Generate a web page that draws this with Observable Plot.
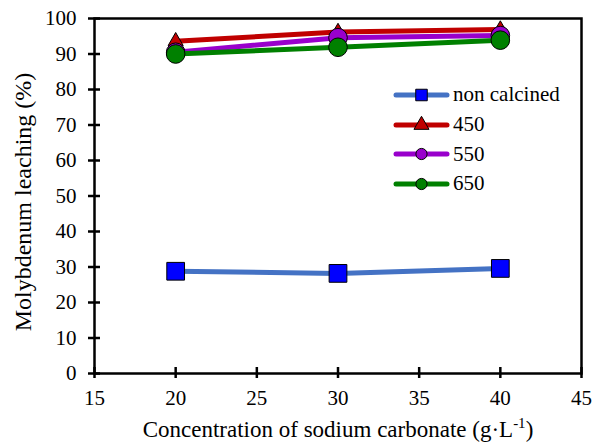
<!DOCTYPE html>
<html>
<head>
<meta charset="utf-8">
<script src="https://cdn.jsdelivr.net/npm/d3@7"></script>
<script src="https://cdn.jsdelivr.net/npm/@observablehq/plot@0.6"></script>
<style>
  body { margin: 0; background: #fff; }
  #wrap { position: relative; width: 592px; height: 446px; }
  #legend { position: absolute; left: 390px; top: 80px; font-family: "Liberation Serif", serif; font-size: 21px; color: #000; }
  #legend .row { display: flex; align-items: center; height: 29.7px; }
  #legend svg { display: block; margin-right: 3px; }
</style>
</head>
<body>
<div id="wrap"></div>
<script>
const concentrations = [20, 30, 40];
const nonCalcined = [28.8, 28.2, 29.6];
const s450 = [93.6, 96.2, 96.9];
const s550 = [90.5, 94.6, 95.2];
const s650 = [90.0, 91.9, 93.9];
const seriesNames = ["non calcined", "450", "550", "650"];
const seriesValues = [nonCalcined, s450, s550, s650];
const lineColors = ["#4472C4", "#C00000", "#9900CC", "#008000"];
const markerFills = ["#0000FF", "#C00000", "#9900CC", "#008000"];
const markerSymbols = ["square", "triangle", "circle", "circle"];
const markerR = [10, 5.6, 9.3, 9.3];
const xTicks = [15, 20, 25, 30, 35, 40, 45];
const yTicks = [0, 10, 20, 30, 40, 50, 60, 70, 80, 90, 100];
const xTitle = "Concentration of sodium carbonate (g·L-1)";
const yTitle = "Molybdenum leaching (%)";

const font = "Liberation Serif";

const seriesMarks = seriesNames.flatMap((name, i) => {
  const data = concentrations.map((c, j) => ({x: c, y: seriesValues[i][j]}));
  return [
    Plot.line(data, {x: "x", y: "y", stroke: lineColors[i], strokeWidth: 5, strokeLinecap: "round"}),
    Plot.dot(data, {x: "x", y: "y", symbol: markerSymbols[i], r: markerR[i], fill: markerFills[i], stroke: "#000", strokeWidth: 1})
  ];
});

const chart = Plot.plot({
  width: 592,
  height: 446,
  marginLeft: 94,
  marginRight: 11,
  marginTop: 18,
  marginBottom: 73,
  style: {fontFamily: font, background: "#fff", color: "#000", overflow: "visible"},
  x: {domain: [15, 45]},
  y: {domain: [0, 100]},
  marks: [
    ...seriesMarks,
    Plot.frame({stroke: "#000", strokeWidth: 2.5}),
    Plot.axisX({ticks: xTicks, tickSize: 11, dy: -6, tickPadding: 12, fontSize: 21, fontFamily: font, strokeWidth: 2.5, label: null, tickFormat: d => d}),
    Plot.axisY({ticks: yTicks, tickSize: 12, dx: 6, tickPadding: 12, fontSize: 21, fontFamily: font, strokeWidth: 2.5, label: null, tickFormat: d => d}),
    Plot.text([xTitle], {frameAnchor: "bottom", dy: 63, fontSize: 23, fontFamily: font, textAnchor: "middle", className: "xtitle"}),
    Plot.text([yTitle], {frameAnchor: "left", dx: -71, dy: 6, rotate: -90, fontSize: 24, fontFamily: font, textAnchor: "middle"})
  ]
});

// superscript for the unit
const xt = chart.querySelector(".xtitle text");
if (xt) {
  xt.textContent = "";
  const ns = "http://www.w3.org/2000/svg";
  const t1 = document.createElementNS(ns, "tspan"); t1.textContent = "Concentration of sodium carbonate (g·L";
  const t2 = document.createElementNS(ns, "tspan"); t2.textContent = "-1"; t2.setAttribute("font-size", "15"); t2.setAttribute("dy", "-9");
  const t3 = document.createElementNS(ns, "tspan"); t3.textContent = ")"; t3.setAttribute("dy", "9");
  xt.append(t1, t2, t3);
}

const wrap = document.getElementById("wrap");
wrap.appendChild(chart);

// legend
const legend = document.createElement("div");
legend.id = "legend";
const symMap = {square: d3.symbolSquare, triangle: d3.symbolTriangle, circle: d3.symbolCircle};
seriesNames.forEach((name, i) => {
  const row = document.createElement("div");
  row.className = "row";
  const svg = d3.create("svg").attr("width", 60).attr("height", 24);
  svg.append("line").attr("x1", 6).attr("x2", 57).attr("y1", 12).attr("y2", 12)
    .attr("stroke", lineColors[i]).attr("stroke-width", 5).attr("stroke-linecap", "round");
  const r = i === 0 ? 6.5 : 5.6;
  svg.append("path").attr("transform", "translate(31.5,12)")
    .attr("d", d3.symbol(symMap[markerSymbols[i]], Math.PI * r * r)())
    .attr("fill", markerFills[i]).attr("stroke", "#000").attr("stroke-width", 1);
  row.appendChild(svg.node());
  const label = document.createElement("span");
  label.textContent = name;
  row.appendChild(label);
  legend.appendChild(row);
});
wrap.appendChild(legend);
</script>
</body>
</html>
